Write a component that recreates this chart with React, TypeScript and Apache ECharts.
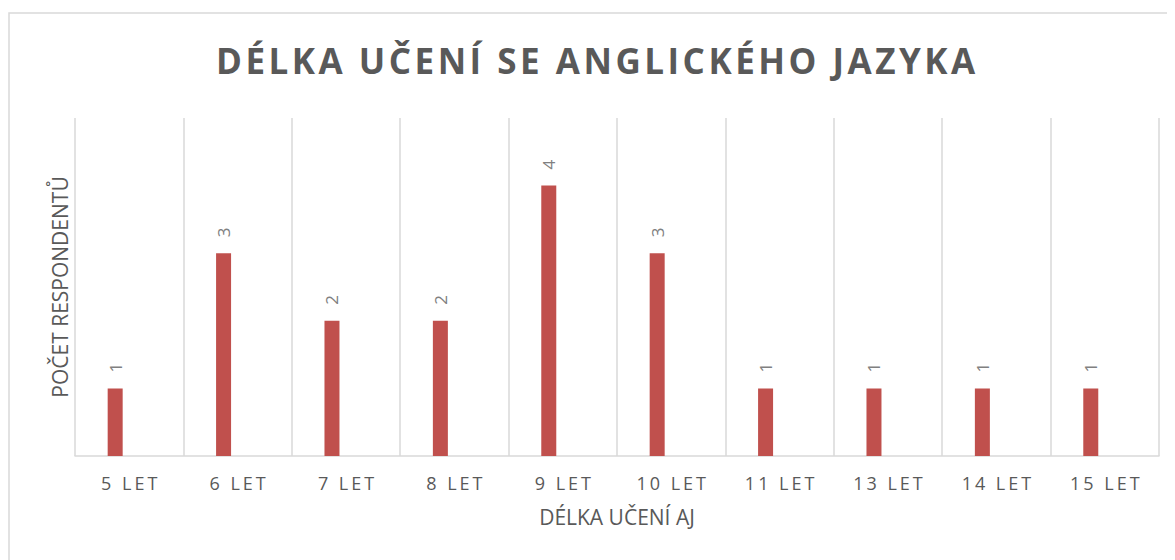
import React, { useEffect, useRef } from "react";
import * as echarts from "echarts";

const TITLE = "DÉLKA UČENÍ SE ANGLICKÉHO JAZYKA";
const X_NAME = "DÉLKA UČENÍ AJ";
const Y_NAME = "POČET RESPONDENTŮ";
const categories = ["5 LET", "6 LET", "7 LET", "8 LET", "9 LET", "10 LET", "11 LET", "13 LET", "14 LET", "15 LET"];
const respondents = [1, 3, 2, 2, 4, 3, 1, 1, 1, 1];
const emptySeries = categories.map(() => null);

const spaced = (s: string, sp: string) => Array.from(s).join(sp);

export default function App() {
  const ref = useRef<HTMLDivElement>(null);
  useEffect(() => {
    if (!ref.current) return;
    const chart = echarts.init(ref.current, null, { renderer: "svg" });
    const font = "'Open Sans', 'Liberation Sans', sans-serif";
    chart.setOption({
      animation: false,
      textStyle: { fontFamily: font },
      title: {
        text: spaced(TITLE, "\u200A"),
        left: 203,
        top: 30,
        textStyle: { fontSize: 35, fontWeight: "bold", color: "#595959", fontFamily: font },
      },
      graphic: [
        {
          type: "rect",
          shape: { x: 1, y: 5, width: 1200, height: 600 },
          style: { fill: "none", stroke: "#d9d9d9", lineWidth: 1.5 },
          silent: true,
          z: -1,
        },
      ],
      grid: { left: 67, right: 16, top: 110, bottom: 104, containLabel: false },
      xAxis: {
        type: "category",
        data: categories,
        boundaryGap: true,
        name: X_NAME,
        nameLocation: "middle",
        nameGap: 50,
        nameTextStyle: { fontSize: 21, color: "#595959" },
        axisLine: { show: true, lineStyle: { color: "#d9d9d9", width: 1.5 } },
        axisTick: { show: false },
        splitLine: { show: true, lineStyle: { color: "#d9d9d9", width: 1.5 } },
        axisLabel: {
          color: "#595959",
          fontSize: 18,
          margin: 18,
          formatter: (v: string) => spaced(v, "\u2009"),
        },
      },
      yAxis: {
        type: "value",
        min: 0,
        max: 5,
        interval: 1,
        name: Y_NAME,
        nameLocation: "middle",
        nameGap: 5,
        nameTextStyle: { fontSize: 21, color: "#595959" },
        axisLine: { show: false },
        axisTick: { show: false },
        axisLabel: { show: false },
        splitLine: { show: false },
      },
      series: [
        {
          type: "bar",
          data: respondents,
          barWidth: 15,
          barGap: "87%",
          itemStyle: { color: "#C0504D" },
          label: {
            show: true,
            position: "top",
            rotate: 90,
            distance: 16,
            align: "left",
            verticalAlign: "middle",
            color: "#808080",
            fontSize: 17,
          },
        },
        {
          type: "bar",
          data: emptySeries,
          barWidth: 15,
          itemStyle: { color: "#4F81BD" },
        },
      ],
    });
    return () => chart.dispose();
  }, []);
  return <div ref={ref} style={{ width: 1167, height: 552 }} />;
}
